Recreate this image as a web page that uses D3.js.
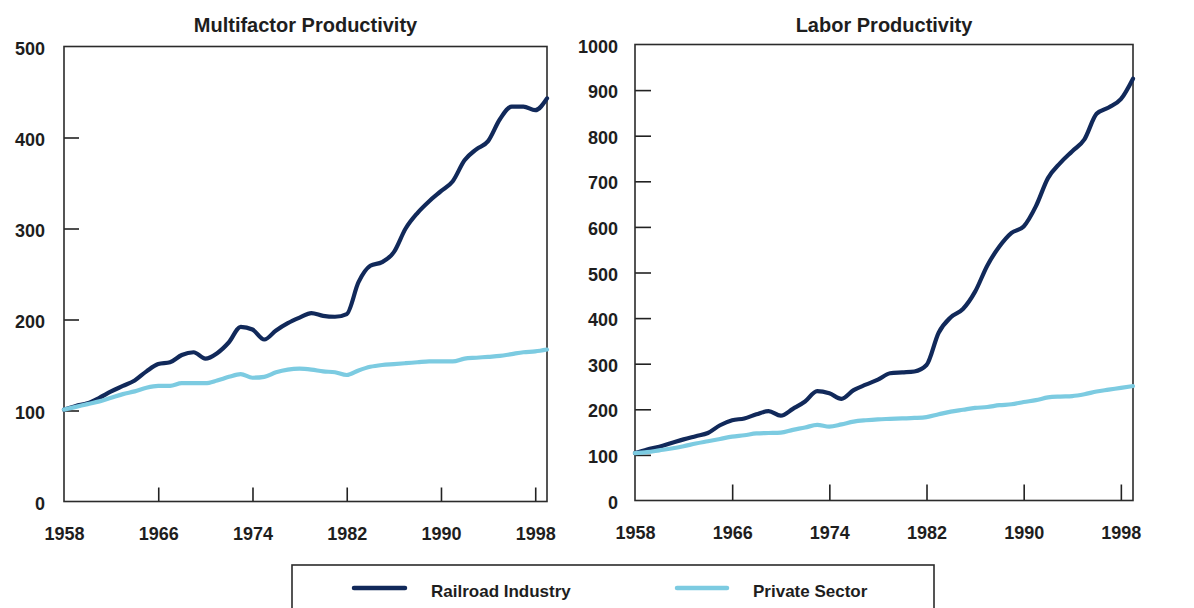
<!DOCTYPE html>
<html>
<head>
<meta charset="utf-8">
<script src="https://cdn.jsdelivr.net/npm/d3@7"></script>
<style>
  html, body { margin: 0; padding: 0; background: #ffffff; }
  svg { display: block; }
  text { font-family: "Liberation Sans", Arial, sans-serif; font-weight: bold; fill: #1e1e1e; }
</style>
</head>
<body>
<svg id="chart" width="1194" height="608"></svg>
<script>
// Years covered by both indexes (1958 = 100)
const years = [1958, 1959, 1960, 1961, 1962, 1963, 1964, 1965, 1966, 1967,
               1968, 1969, 1970, 1971, 1972, 1973, 1974, 1975, 1976, 1977,
               1978, 1979, 1980, 1981, 1982, 1983, 1984, 1985, 1986, 1987,
               1988, 1989, 1990, 1991, 1992, 1993, 1994, 1995, 1996, 1997,
               1998, 1999];

// Multifactor productivity index
const railroadMFP = [101, 105, 108, 114, 121, 127, 133, 143, 151, 153,
                     161, 164, 157, 163, 175, 192, 189, 178, 188, 196,
                     202, 207, 204, 203, 206, 241, 259, 263, 274, 300,
                     317, 330, 341, 352, 375, 387, 396, 420, 434, 434,
                     430, 443];
const privateMFP = [101, 104, 107, 110, 114, 118, 121, 125, 127, 127,
                    130, 130, 130, 133, 137, 140, 136, 137, 142, 145,
                    146, 145, 143, 142, 139, 144, 148, 150, 151, 152,
                    153, 154, 154, 154, 157, 158, 159, 160, 162, 164,
                    165, 167];

// Labor productivity index
const railroadLabor = [104, 112, 118, 126, 134, 141, 148, 165, 176, 180,
                       189, 196, 186, 201, 217, 240, 235, 223, 242, 254,
                       265, 279, 281, 283, 297, 368, 402, 420, 458, 515,
                       557, 587, 601, 645, 707, 740, 766, 792, 848, 862,
                       880, 925];
const privateLabor = [104, 106, 110, 114, 119, 125, 130, 135, 140, 143,
                      147, 148, 149, 155, 160, 166, 162, 167, 173, 176,
                      178, 179, 180, 181, 183, 189, 195, 199, 203, 205,
                      209, 211, 216, 220, 226, 228, 229, 233, 239, 243,
                      247, 251];

// Axis ticks and labels
const yearTicks = [1958, 1966, 1974, 1982, 1990, 1998];
const mfpTicks = [0, 100, 200, 300, 400, 500];
const laborTicks = [0, 100, 200, 300, 400, 500, 600, 700, 800, 900, 1000];
const seriesNames = ["Railroad Industry", "Private Sector"];
const panelTitles = ["Multifactor Productivity", "Labor Productivity"];

const RAIL = "#11295a";
const PRIV = "#7ccbe1";

const svg = d3.select("#chart");

function drawPanel(cfg) {
  const x = d3.scaleLinear().domain([years[0], years[years.length - 1]]).range([cfg.left, cfg.right]);
  const y = d3.scaleLinear().domain([0, cfg.ticks[cfg.ticks.length - 1]]).range([cfg.bottom, cfg.top]);
  const g = svg.append("g");

  // panel title
  g.append("text")
    .attr("x", (cfg.left + cfg.right) / 2)
    .attr("y", 32)
    .attr("text-anchor", "middle")
    .style("font-size", "20px")
    .text(cfg.title);

  // y axis: labels outside, short ticks pointing inward
  const yAxis = g.append("g")
    .attr("transform", `translate(${cfg.left},0)`)
    .call(d3.axisLeft(y).tickValues(cfg.ticks).tickSize(-cfg.yTick).tickPadding(cfg.yPad).tickFormat(d3.format("d")));
  yAxis.select(".domain").remove();
  yAxis.selectAll(".tick line")
    .attr("stroke", "#222").attr("stroke-width", 1.6)
    .filter(d => d === 0 || d === cfg.ticks[cfg.ticks.length - 1]).remove();
  yAxis.selectAll(".tick text")
    .attr("dy", "0.42em")
    .style("font-size", "18px").style("font-family", null).attr("fill", "#1e1e1e");

  // x axis: year labels below, ticks pointing up
  const xAxis = g.append("g")
    .attr("transform", `translate(0,${cfg.bottom})`)
    .call(d3.axisBottom(x).tickValues(yearTicks).tickSize(-cfg.xTick).tickPadding(26).tickFormat(d3.format("d")));
  xAxis.select(".domain").remove();
  xAxis.selectAll(".tick line")
    .attr("stroke", "#222").attr("stroke-width", 1.6)
    .filter(d => d === years[0]).remove();
  xAxis.selectAll(".tick text")
    .style("font-size", "18px").style("font-family", null).attr("fill", "#1e1e1e");

  // plot frame
  g.append("rect")
    .attr("x", cfg.left).attr("y", cfg.top)
    .attr("width", cfg.right - cfg.left).attr("height", cfg.bottom - cfg.top)
    .attr("fill", "none").attr("stroke", "#2b2b2b").attr("stroke-width", 1.6);

  const line = d3.line().x((d, i) => x(years[i])).y(d => y(d)).curve(d3.curveMonotoneX);

  g.append("path").datum(cfg.rail)
    .attr("d", line).attr("fill", "none")
    .attr("stroke", RAIL).attr("stroke-width", 4.2)
    .attr("stroke-linejoin", "round").attr("stroke-linecap", "round");
  g.append("path").datum(cfg.priv)
    .attr("d", line).attr("fill", "none")
    .attr("stroke", PRIV).attr("stroke-width", 4.2)
    .attr("stroke-linejoin", "round").attr("stroke-linecap", "round");
}

drawPanel({ title: panelTitles[0], left: 64, right: 547, top: 46.5, bottom: 501.5,
            ticks: mfpTicks, rail: railroadMFP, priv: privateMFP, yTick: 15, xTick: 14, yPad: 19 });
drawPanel({ title: panelTitles[1], left: 635, right: 1133, top: 44.5, bottom: 500.5,
            ticks: laborTicks, rail: railroadLabor, priv: privateLabor, yTick: 16, xTick: 16, yPad: 17 });

// legend
const legend = svg.append("g");
legend.append("rect")
  .attr("x", 292).attr("y", 565).attr("width", 642).attr("height", 60)
  .attr("fill", "#ffffff").attr("stroke", "#2b2b2b").attr("stroke-width", 1.6);

const legendItems = [
  { name: seriesNames[0], color: RAIL, x0: 354, x1: 405, tx: 431 },
  { name: seriesNames[1], color: PRIV, x0: 677, x1: 727, tx: 753 }
];
legendItems.forEach(it => {
  legend.append("line")
    .attr("x1", it.x0).attr("x2", it.x1).attr("y1", 588).attr("y2", 588)
    .attr("stroke", it.color).attr("stroke-width", 4.5).attr("stroke-linecap", "round");
  legend.append("text")
    .attr("x", it.tx).attr("y", 597)
    .style("font-size", "17px")
    .text(it.name);
});
</script>
</body>
</html>
